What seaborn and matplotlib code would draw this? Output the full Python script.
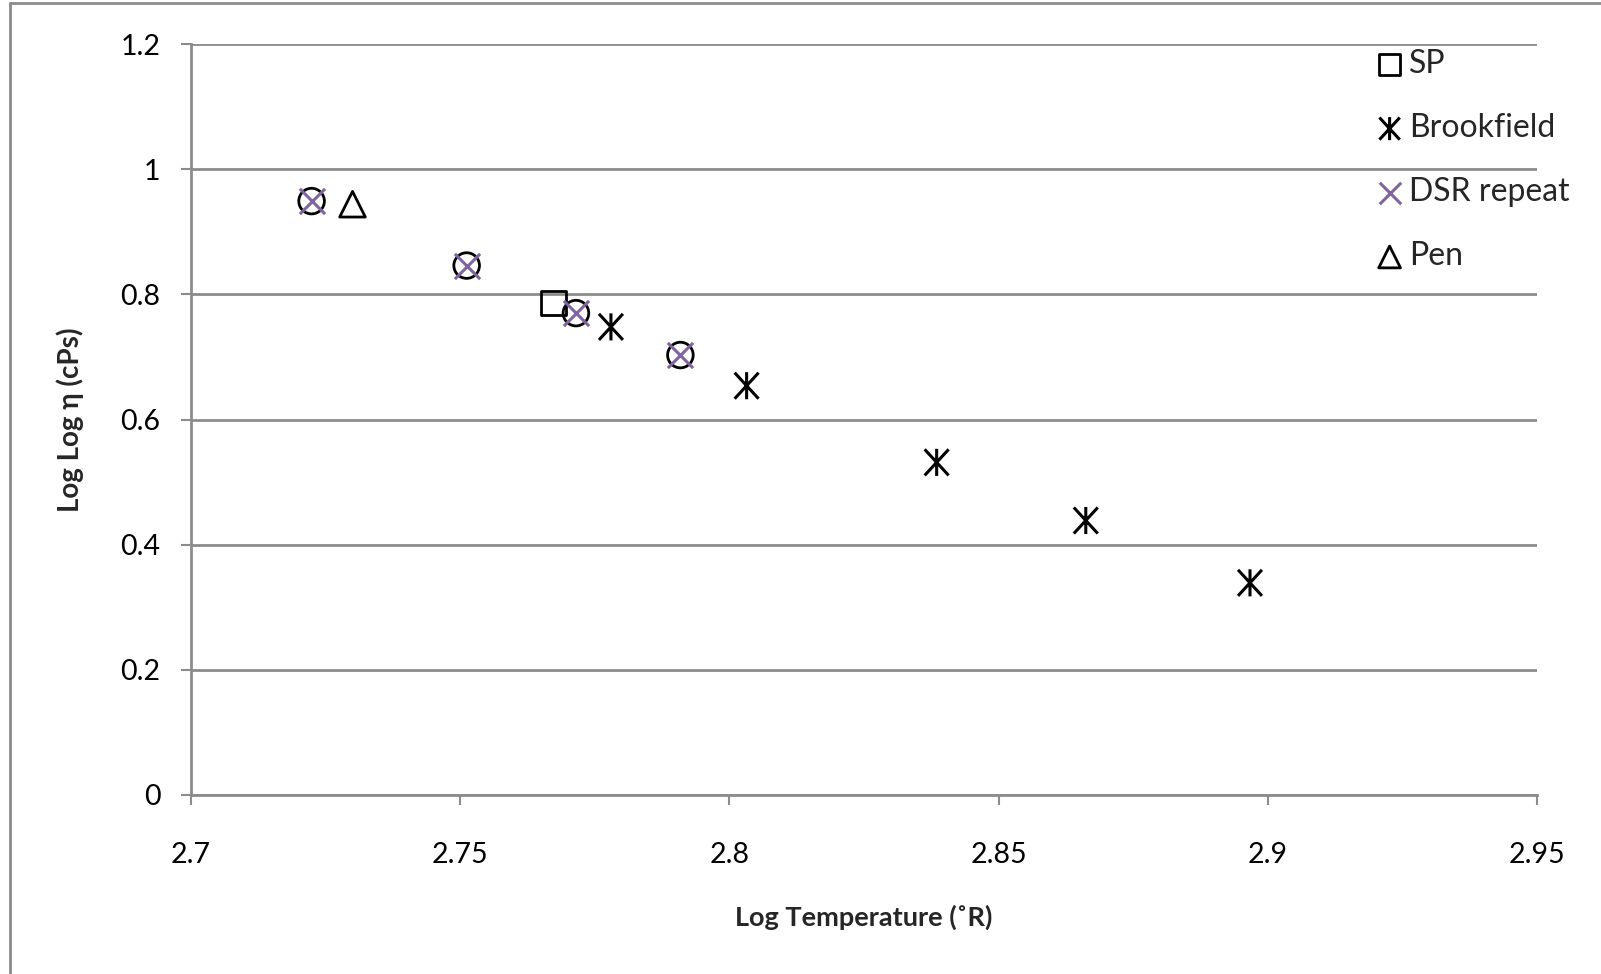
import matplotlib
matplotlib.use("Agg")
import matplotlib.pyplot as plt
import seaborn as sns
from matplotlib.path import Path
from matplotlib.lines import Line2D

# Datos
dsr_x = [2.7224, 2.7512, 2.7715, 2.7909]
dsr_y = [0.949, 0.846, 0.770, 0.703]
dsr_rep_x = [2.7224, 2.7512, 2.7715, 2.7909]
dsr_rep_y = [0.949, 0.846, 0.770, 0.703]
sp_x = [2.7673]
sp_y = [0.786]
brook_x = [2.778, 2.8032, 2.8385, 2.8662, 2.8967]
brook_y = [0.748, 0.654, 0.5315, 0.4386, 0.339]
pen_x = [2.730]
pen_y = [0.944]

x_ticks = [2.7, 2.75, 2.8, 2.85, 2.9, 2.95]
x_tick_labels = ["2.7", "2.75", "2.8", "2.85", "2.9", "2.95"]
y_ticks = [0, 0.2, 0.4, 0.6, 0.8, 1.0, 1.2]
y_tick_labels = ["0", "0.2", "0.4", "0.6", "0.8", "1", "1.2"]

sns.set_theme(style="white")
plt.rcParams["font.family"] = ["Lato", "DejaVu Sans"]

# Marcador asterisco (X con línea vertical)
asterisco = Path(
    [(-0.46, -0.5), (0.46, 0.5), (-0.46, 0.5), (0.46, -0.5), (0, -0.52), (0, 0.52)],
    [Path.MOVETO, Path.LINETO, Path.MOVETO, Path.LINETO, Path.MOVETO, Path.LINETO],
)

fig = plt.figure(figsize=(16.01, 9.74), dpi=100)
ax = fig.add_axes([0.1193, 0.1838, 0.8407, 0.771])

gris = "#8c8c8c"
morado = "#8064A2"

sns.scatterplot(x=dsr_x, y=dsr_y, ax=ax, marker="o", s=340,
                facecolors="none", edgecolor="black", linewidth=2.0, zorder=3)
sns.scatterplot(x=sp_x, y=sp_y, ax=ax, marker="s", s=310, label="SP",
                facecolors="none", edgecolor="black", linewidth=2.0, zorder=3)
sns.scatterplot(x=brook_x, y=brook_y, ax=ax, marker=asterisco, s=380,
                label="Brookfield", facecolors="none", edgecolor="black",
                linewidth=2.2, zorder=4)
sns.scatterplot(x=dsr_rep_x, y=dsr_rep_y, ax=ax, marker="x", s=330,
                label="DSR repeat", color=morado, linewidth=2.2, zorder=4)
sns.scatterplot(x=pen_x, y=pen_y, ax=ax, marker="^", s=340, label="Pen",
                facecolors="none", edgecolor="black", linewidth=2.0, zorder=3)

ax.set_xlim(2.7, 2.95)
ax.set_ylim(0, 1.2)
ax.set_xticks(x_ticks)
ax.set_xticklabels(x_tick_labels)
ax.set_yticks(y_ticks)
ax.set_yticklabels(y_tick_labels)

ax.yaxis.grid(True, color=gris, linewidth=2)
ax.xaxis.grid(False)
ax.set_axisbelow(True)

for lado in ["top", "right"]:
    ax.spines[lado].set_visible(False)
for lado in ["left", "bottom"]:
    ax.spines[lado].set_color(gris)
    ax.spines[lado].set_linewidth(2)

ax.tick_params(axis="both", which="major", direction="out", length=7,
               width=1.5, color=gris, labelsize=20.5, labelcolor="black")
ax.tick_params(axis="x", pad=27, bottom=True)
ax.tick_params(axis="y", pad=15, left=True)

ax.set_xlabel("Log Temperature (˚R)", fontsize=19.5, fontweight="bold", labelpad=26)
ax.set_ylabel("Log Log η (cPs)", fontsize=20, fontweight="bold", labelpad=26)

ax.legend(loc="upper left", bbox_to_anchor=(0.851, 0.963), bbox_transform=fig.transFigure,
          frameon=False, fontsize=23, handletextpad=0.15, labelspacing=1.07,
          handlelength=0.9, borderaxespad=0, markerscale=0.85)

# Marco exterior del gráfico
fig.add_artist(Line2D([10 / 1601, 10 / 1601], [0, 1 - 3 / 974], color=gris,
                      linewidth=2, transform=fig.transFigure))
fig.add_artist(Line2D([10 / 1601, 1], [1 - 3 / 974, 1 - 3 / 974], color=gris,
                      linewidth=2, transform=fig.transFigure))

fig.savefig("out.png", dpi=100, facecolor="white")
